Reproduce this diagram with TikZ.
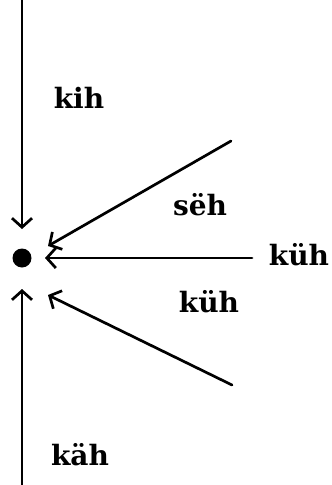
\documentclass[tikz,border=0pt]{standalone}
\usepackage{fontspec}
\setmainfont{DejaVu Serif}
\usetikzlibrary{arrows.meta}
\begin{document}
\begin{tikzpicture}[x=1pt,y=-1pt,line cap=round,line join=round,
    flow/.style={line width=2.7pt,-{Straight Barb[length=9pt,width=20pt,line width=2.7pt]}},
    word/.style={font=\bfseries\fontsize{28}{30}\selectfont,inner sep=0pt}]
  \useasboundingbox (0,0) rectangle (332,485);
  % the goal point
  \node[circle,fill,inner sep=0pt,minimum size=19pt] (goal) at (22,258) {};
  % free ends of the arrows
  \coordinate (topEnd) at (22,0);
  \coordinate (botEnd) at (22,485);
  \coordinate (rightEnd) at (252,258);
  \coordinate (upEnd) at (231,141);
  \coordinate (lowEnd) at (232,385);
  \coordinate (topTip) at (22,229);
  \coordinate (botTip) at (22,289);
  \coordinate (rightTip) at (45,258);
  \coordinate (upTip) at (48,246);
  \coordinate (lowTip) at (48,295);
  \draw[flow] (topEnd) -- (topTip);
  \draw[flow] (botEnd) -- (botTip);
  \draw[flow] (rightEnd) -- (rightTip);
  \draw[flow] (upEnd) -- (upTip);
  \draw[flow] (lowEnd) -- (lowTip);
  % labels
  \node[word] (kih) at (79,98) {kih};
  \node[word] (seh) at (200,205) {sëh};
  \node[word] (kuhR) at (299,255) {küh};
  \node[word] (kuhL) at (209,302) {küh};
  \node[word] (kah) at (80,455) {käh};
\end{tikzpicture}
\end{document}
